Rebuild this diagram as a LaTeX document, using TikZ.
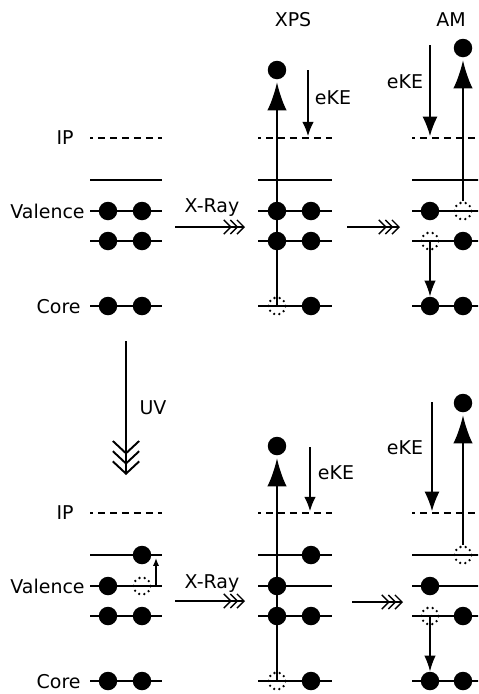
\documentclass[tikz,border=0pt]{standalone}
\usepackage{fontspec}
\setmainfont{DejaVu Sans}
\usetikzlibrary{arrows.meta}

\tikzset{
  elec/.style={circle, fill, inner sep=0pt, minimum size=0.37cm},
  hole/.style={circle, draw, inner sep=0pt, minimum size=0.34cm, line width=1.5pt, line cap=round, dash pattern=on 0pt off 3pt},
  lvl/.style={line width=1.2pt},
  ipl/.style={line width=1.2pt, dash pattern=on 4pt off 2.8pt, dash phase=2.2pt},
  jump/.style={line width=1.2pt, -{Latex[length=16pt,width=11pt]}, shorten >=1.5pt},
  kes/.style={line width=0.7pt, -{Latex[length=8pt,width=6.5pt]}},
  kel/.style={line width=0.7pt, -{Latex[length=11pt,width=8.5pt]}},
  drop/.style={line width=0.7pt, -{Latex[length=9pt,width=6.5pt]}},
  tiny/.style={line width=0.7pt, -{Latex[length=4.5pt,width=3.5pt]}},
  beam/.style={line width=0.8pt, -{Straight Barb[length=4pt,width=8pt,sep=-1.2pt] Straight Barb[length=4pt,width=8pt,sep=-1.2pt] Straight Barb[length=4pt,width=8pt]}},
  uvbeam/.style={line width=1.1pt, -{Straight Barb[length=7pt,width=15pt,sep=-2.5pt] Straight Barb[length=7pt,width=15pt,sep=-2.5pt] Straight Barb[length=7pt,width=15pt]}},
  lab/.style={inner sep=0pt, font=\fontsize{10.8}{13}\selectfont},
}

\begin{document}
\begin{tikzpicture}[x=0.02cm, y=-0.02cm]
\clip (0,0) rectangle (478,694);

% titles
\node[lab] (xps) at (293,20) {XPS};
\node[lab] (am) at (451,20) {AM};

%% top row
% ground state
\node[lab, anchor=east] (ip1) at (74,138) {IP};
\node[lab, anchor=east] (val1) at (85,211) {Valence};
\node[lab, anchor=east] (core1) at (81,307) {Core};
\draw[ipl] (90,138) -- (162,138);
\draw[lvl] (90,180) -- (162,180);
\draw[lvl] (90,211) -- (162,211);
\draw[lvl] (90,241) -- (162,241);
\draw[lvl] (90,306) -- (162,306);
\node[elec] (g1) at (108,211) {};
\node[elec] (g2) at (142,211) {};
\node[elec] (g3) at (108,241) {};
\node[elec] (g4) at (142,241) {};
\node[elec] (g5) at (108,306) {};
\node[elec] (g6) at (142,306) {};

% X-Ray
\coordinate (xa1) at (175,227);
\coordinate (xa2) at (245,227);
\path[draw,beam] (xa1) -- (xa2);
\node[lab] (xray1) at (212,208) {X-Ray};

% XPS
\draw[ipl] (258,138) -- (332,138);
\draw[lvl] (258,180) -- (332,180);
\draw[lvl] (258,211) -- (332,211);
\draw[lvl] (258,241) -- (332,241);
\draw[lvl] (258,306) -- (332,306);
\node[elec] (x1) at (277,211) {};
\node[elec] (x2) at (311,211) {};
\node[elec] (x3) at (277,241) {};
\node[elec] (x4) at (311,241) {};
\node[hole] (xh) at (277,306) {};
\node[elec] (x6) at (311,306) {};
\node[elec] (xf) at (277,70) {};
\path[draw,jump] (xh.center) -- (xf);
\coordinate (xk1) at (308,70);
\coordinate (xk2) at (308,136);
\path[draw,kes] (xk1) -- (xk2);
\node[lab] (xke) at (333,98) {eKE};

% XPS -> AM
\coordinate (ma1) at (347,227);
\coordinate (ma2) at (400,227);
\path[draw,beam] (ma1) -- (ma2);

% AM
\draw[ipl] (412,138) -- (490,138);
\draw[lvl] (412,180) -- (490,180);
\draw[lvl] (412,211) -- (490,211);
\draw[lvl] (412,241) -- (490,241);
\draw[lvl] (412,306) -- (490,306);
\node[elec] (a1) at (430,211) {};
\node[hole] (ah1) at (463,211) {};
\node[hole] (ah2) at (430,241) {};
\node[elec] (a4) at (463,241) {};
\node[elec] (a5) at (430,306) {};
\node[elec] (a6) at (463,306) {};
\node[elec] (af) at (463,48) {};
\path[draw,jump] (ah1.north) -- (af);
\path[draw,drop] (ah2.center) -- (a5);
\coordinate (ak1) at (430,45);
\coordinate (ak2) at (430,136);
\path[draw,kel] (ak1) -- (ak2);
\node[lab] (ake) at (405,82) {eKE};

% UV
\coordinate (uv1) at (126,341);
\coordinate (uv2) at (126,475);
\path[draw,uvbeam] (uv1) -- (uv2);
\node[lab] (uv) at (153,408) {UV};

%% bottom row
% excited state
\node[lab, anchor=east] (ip2) at (74,513) {IP};
\node[lab, anchor=east] (val2) at (85,586) {Valence};
\node[lab, anchor=east] (core2) at (81,682) {Core};
\draw[ipl] (90,513) -- (162,513);
\draw[lvl] (90,555) -- (162,555);
\draw[lvl] (90,586) -- (162,586);
\draw[lvl] (90,616) -- (162,616);
\draw[lvl] (90,681) -- (162,681);
\node[elec] (s0) at (142,555) {};
\node[elec] (s1) at (108,586) {};
\node[hole] (sh) at (142,586) {};
\node[elec] (s3) at (108,616) {};
\node[elec] (s4) at (142,616) {};
\node[elec] (s5) at (108,681) {};
\node[elec] (s6) at (142,681) {};
\coordinate (sx1) at (156,586);
\coordinate (sx2) at (156,558);
\path[draw,tiny] (sx1) -- (sx2);

% X-Ray
\coordinate (xb1) at (175,601);
\coordinate (xb2) at (245,601);
\path[draw,beam] (xb1) -- (xb2);
\node[lab] (xray2) at (212,584) {X-Ray};

% XPS
\draw[ipl] (258,513) -- (332,513);
\draw[lvl] (258,555) -- (332,555);
\draw[lvl] (258,586) -- (332,586);
\draw[lvl] (258,616) -- (332,616);
\draw[lvl] (258,681) -- (332,681);
\node[elec] (y0) at (311,555) {};
\node[elec] (y1) at (277,586) {};
\node[elec] (y3) at (277,616) {};
\node[elec] (y4) at (311,616) {};
\node[hole] (yh) at (277,681) {};
\node[elec] (y6) at (311,681) {};
\node[elec] (yf) at (277,446) {};
\path[draw,jump] (yh.center) -- (yf);
\coordinate (yk1) at (310,447);
\coordinate (yk2) at (310,511);
\path[draw,kes] (yk1) -- (yk2);
\node[lab] (yke) at (336,473) {eKE};

% XPS -> AM
\coordinate (mb1) at (352,602);
\coordinate (mb2) at (403,602);
\path[draw,beam] (mb1) -- (mb2);

% AM
\draw[ipl] (412,513) -- (490,513);
\draw[lvl] (412,555) -- (490,555);
\draw[lvl] (412,586) -- (490,586);
\draw[lvl] (412,616) -- (490,616);
\draw[lvl] (412,681) -- (490,681);
\node[hole] (bh0) at (463,555) {};
\node[elec] (b1) at (430,586) {};
\node[hole] (bh2) at (430,616) {};
\node[elec] (b4) at (463,616) {};
\node[elec] (b5) at (430,681) {};
\node[elec] (b6) at (463,681) {};
\node[elec] (bf) at (463,403) {};
\path[draw,jump] (bh0.north) -- (bf);
\path[draw,drop] (bh2.center) -- (b5);
\coordinate (bk1) at (432,402);
\coordinate (bk2) at (432,511);
\path[draw,kel] (bk1) -- (bk2);
\node[lab] (bke) at (405,448) {eKE};
\end{tikzpicture}
\end{document}
